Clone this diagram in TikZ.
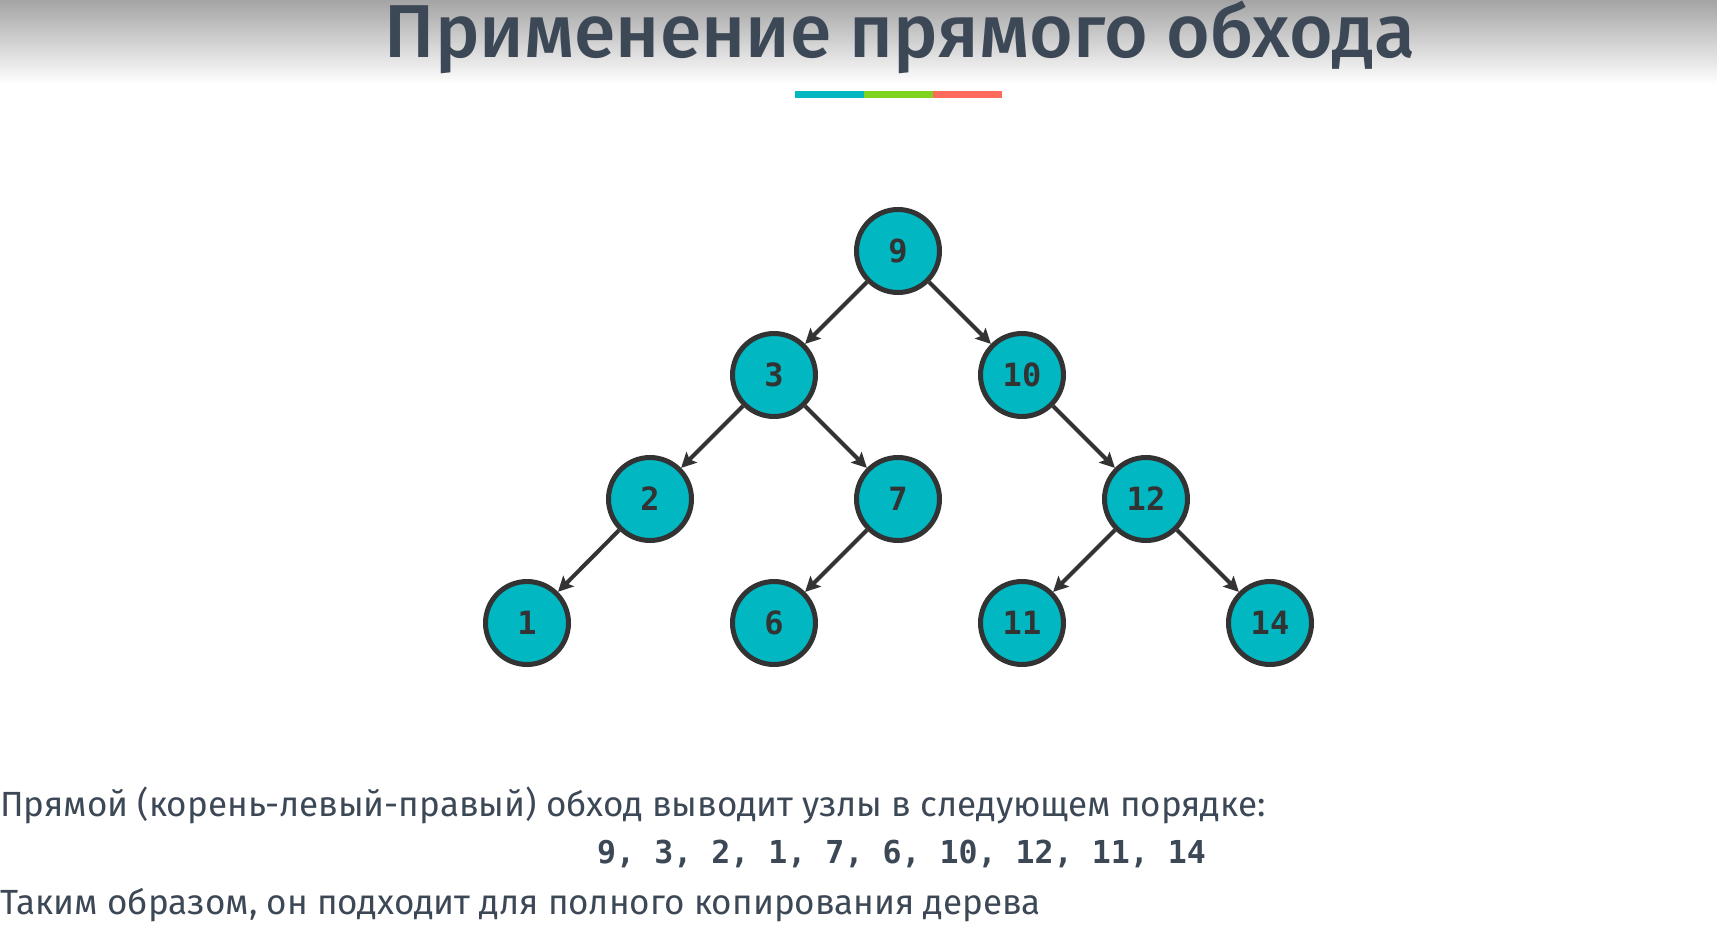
\documentclass[tikz,border=0pt]{standalone}
\usepackage{fontspec}
\setmainfont{Fira Sans}
\newfontfamily\titlefont{Fira Sans Medium}
\newfontfamily\monofont{DejaVu Sans Mono}
\usetikzlibrary{arrows.meta}
\definecolor{nodeteal}{HTML}{00B7C2}
\definecolor{inkgray}{HTML}{333333}
\definecolor{slate}{HTML}{3D4857}
\definecolor{bargreen}{HTML}{7ED321}
\definecolor{barcoral}{HTML}{FF6B5B}
\definecolor{fadegray}{HTML}{A4A4A4}

\begin{document}
\begin{tikzpicture}[x=1pt,y=-1pt,
    vertex/.style={circle,draw=inkgray,line width=5pt,fill=nodeteal,minimum size=83pt,
      inner sep=0pt,text=inkgray,font=\monofont\bfseries\fontsize{32}{32}\selectfont},
    link/.style={draw=inkgray,line width=4pt,-{Stealth[length=15pt,width=15pt,inset=3pt]}},
    say/.style={anchor=base west,inner sep=0pt,text=slate,font=\fontsize{35}{35}\selectfont}]
  \useasboundingbox (0,0) rectangle (1717,927);

  % header
  \shade[top color=fadegray,bottom color=white] (0,0) rectangle (1717,84);
  \node[anchor=base,inner sep=0pt,text=slate,font=\titlefont\fontsize{75}{75}\selectfont]
    (title) at (900,57) {Применение прямого обхода};
  \fill[nodeteal] (795,91) rectangle (864,98);
  \fill[bargreen] (864,91) rectangle (933,98);
  \fill[barcoral] (933,91) rectangle (1002,98);

  % tree
  \foreach \name/\x/\y in {9/898/251, 3/774/375, 10/1022/375, 2/650/499, 7/898/499,
      12/1146/499, 1/527/623, 6/774/623, 11/1022/623, 14/1270/623}
    \node[vertex] (n\name) at (\x,\y) {\name};
  \foreach \a/\b in {9/3, 9/10, 3/2, 3/7, 10/12, 2/1, 7/6, 12/11, 12/14}
    \draw[link] (n\a) -- (n\b);

  % text
  \node[say] (order) at (0,816) {Прямой (корень-левый-правый) обход выводит узлы в следующем порядке:};
  \node[say,font=\monofont\bfseries\fontsize{31.6}{31.6}\selectfont] (seq) at (597,863)
    {9, 3, 2, 1, 7, 6, 10, 12, 11, 14};
  \node[say] (usage) at (0,914) {Таким образом, он подходит для полного копирования дерева};
\end{tikzpicture}
\end{document}
